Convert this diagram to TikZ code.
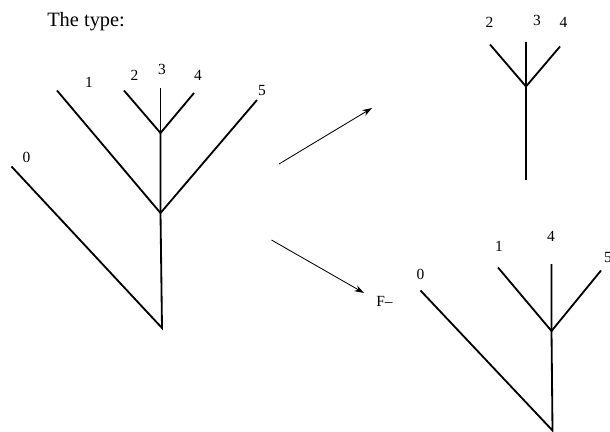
\documentclass[tikz,border=0pt]{standalone}
\usepackage{fontspec}
\setmainfont{Liberation Serif}
\usetikzlibrary{arrows.meta}

\begin{document}
\begin{tikzpicture}[x=0.025cm,y=-0.025cm,>={Stealth[length=2.4mm,width=1.6mm]},
  branch/.style={line width=1.3pt},
  leaf/.style={font=\fontsize{11}{13}\selectfont,inner sep=0pt,anchor=base}]
\useasboundingbox (0,0) rectangle (610,432);
\node[font=\fontsize{14.5}{17}\selectfont,inner sep=0pt,anchor=base west] (title) at (47,27) {The type:};

% left tree
\coordinate (Lr) at (162,328);
\coordinate (Lv) at (160.5,213);
\coordinate (Lw) at (160.5,133);
\coordinate (L0) at (11.5,166.5);
\coordinate (L1) at (57,90.5);
\coordinate (L2) at (124,90.5);
\coordinate (L3) at (160.5,88);
\coordinate (L4) at (194,93);
\coordinate (L5) at (257,100);
\draw[branch] (L0) -- (Lr) -- (Lv) -- (Lw);
\draw[branch] (L1) -- (Lv) -- (L5);
\draw[branch] (L2) -- (Lw) -- (L4);
\draw[branch] (L3) -- (Lw);
\node[leaf] (n0) at (26.5,162.5) {0};
\node[leaf] (n1) at (89,88) {1};
\node[leaf] (n2) at (134.5,80.5) {2};
\node[leaf] (n3) at (162,75) {3};
\node[leaf] (n4) at (198,80.5) {4};
\node[leaf] (n5) at (262,96) {5};

% arrows
\coordinate (a1s) at (279,164);
\coordinate (a1e) at (372,108);
\coordinate (a2s) at (271.5,240);
\coordinate (a2e) at (364,293);
\draw[->,line width=0.6pt] (a1s) -- (a1e);
\draw[->,line width=0.6pt] (a2s) -- (a2e);
\node[font=\fontsize{11}{13}\selectfont,inner sep=0pt,anchor=base west] (fm) at (376,306) {F--};

% upper right tree
\coordinate (Ub) at (526,180);
\coordinate (Uw) at (526,86.5);
\coordinate (U2) at (490,44.5);
\coordinate (U3) at (526,42);
\coordinate (U4) at (560,46.5);
\draw[branch] (Ub) -- (Uw) -- (U2);
\draw[branch] (U3) -- (Uw) -- (U4);
\node[leaf] (m2) at (489.5,27.3) {2};
\node[leaf] (m3) at (537,26) {3};
\node[leaf] (m4) at (563.5,27.3) {4};

% lower right tree
\coordinate (Br) at (552.5,430.5);
\coordinate (Bw) at (551.5,331);
\coordinate (B0) at (420.5,290.5);
\coordinate (B1) at (498,267.5);
\coordinate (B4) at (551.5,264);
\coordinate (B5) at (601,270.5);
\draw[branch] (B0) -- (Br) -- (Bw) -- (B4);
\draw[branch] (B1) -- (Bw) -- (B5);
\node[leaf] (k0) at (420.5,279.3) {0};
\node[leaf] (k1) at (499,251.7) {1};
\node[leaf] (k4) at (551,241.7) {4};
\node[leaf] (k5) at (608,262.7) {5};
\end{tikzpicture}
\end{document}
